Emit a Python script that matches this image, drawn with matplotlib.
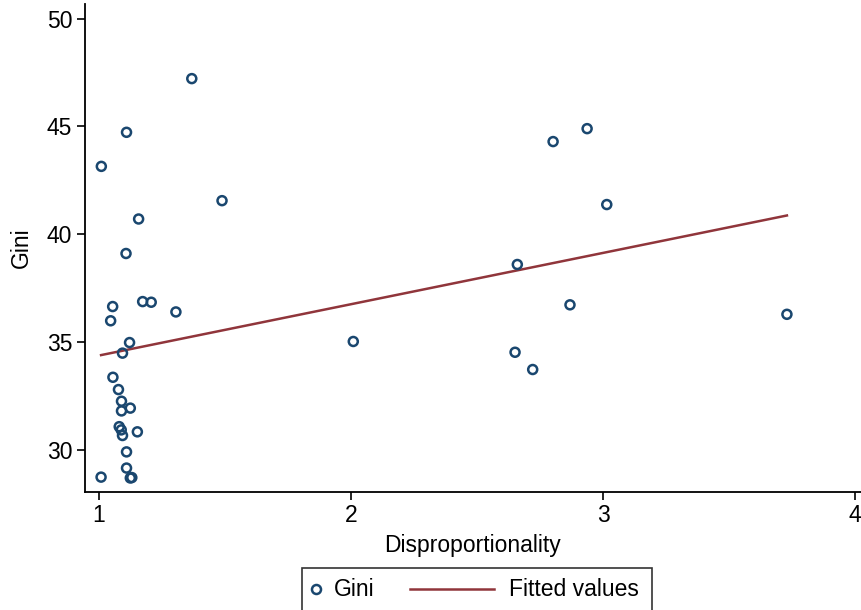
import numpy as np
import matplotlib
matplotlib.use("Agg")
import matplotlib.pyplot as plt
from matplotlib.lines import Line2D
from matplotlib.patches import Rectangle

plt.rcParams['font.family'] = ['Liberation Sans', 'DejaVu Sans']

# Data
disproportionality = [1.368, 1.109, 1.009, 1.488, 1.157, 1.107, 1.173, 1.207, 1.305,
                      1.054, 1.046, 1.121, 1.093, 1.055, 1.077, 1.089, 1.089, 1.124,
                      1.080, 1.088, 1.093, 1.152, 1.109, 1.109, 1.008, 1.124, 1.130,
                      2.009, 2.660, 2.651, 2.721, 2.802, 2.937, 2.869, 3.015, 3.730]
gini = [47.22, 44.73, 43.15, 41.56, 40.71, 39.11, 36.88, 36.85, 36.40,
        36.65, 35.99, 34.98, 34.49, 33.37, 32.80, 32.26, 31.81, 31.94,
        31.08, 30.93, 30.67, 30.84, 29.91, 29.16, 28.74, 28.70, 28.72,
        35.03, 38.60, 34.53, 33.73, 44.30, 44.90, 36.73, 41.38, 36.29]
x_ticks = [1, 2, 3, 4]
y_ticks = [30, 35, 40, 45, 50]

x = np.array(disproportionality)
y = np.array(gini)
slope, intercept = np.polyfit(x, y, 1)
xf = np.array([x.min(), x.max()])
yf = intercept + slope * xf

navy = '#1a476f'
maroon = '#90353b'
FS = 16.5

fig = plt.figure(figsize=(8.61, 6.10), dpi=100)
ax = fig.add_axes([84.7/861, 1 - 492/610, 1 - 84.7/861, (492 - 4)/610])

ax.plot(xf, yf, color=maroon, lw=1.8, zorder=2)
ax.scatter(x, y, s=42, facecolors='none', edgecolors=navy, linewidths=1.8, zorder=3)

ax.set_xlim(0.943, 4.024)
ax.set_ylim(28.05, 50.68)
ax.set_xticks(x_ticks)
ax.set_yticks(y_ticks)
ax.spines['top'].set_visible(False)
ax.spines['right'].set_visible(False)
for s in ('left', 'bottom'):
    ax.spines[s].set_linewidth(1.3)
ax.tick_params(axis='both', length=6, width=1.2, labelsize=FS, pad=3, colors='black')
ax.set_xlabel('Disproportionality', fontsize=FS, labelpad=5)
ax.set_ylabel('Gini', fontsize=FS, labelpad=10)

# Legend (drawn in figure pixel coordinates)
W, H = 861, 610
def fx(px):
    return px / W
def fy(py):
    return 1 - py / H

fig.patches.append(Rectangle((fx(302), fy(620)), fx(652) - fx(302), fy(568) - fy(620),
                             transform=fig.transFigure, fill=False, edgecolor='#333333',
                             lw=1.2, clip_on=False))
fig.lines.append(Line2D([fx(316)], [fy(589)], transform=fig.transFigure, marker='o',
                        markersize=6.5, markerfacecolor='none', markeredgecolor=navy,
                        markeredgewidth=1.8, linestyle='none'))
fig.text(fx(334), fy(589), 'Gini', fontsize=FS, va='center', ha='left')
fig.lines.append(Line2D([fx(410), fx(494)], [fy(589), fy(589)], transform=fig.transFigure,
                        color=maroon, lw=1.8))
fig.text(fx(509), fy(589), 'Fitted values', fontsize=FS, va='center', ha='left')

fig.savefig('out.png', dpi=100, facecolor='white')
